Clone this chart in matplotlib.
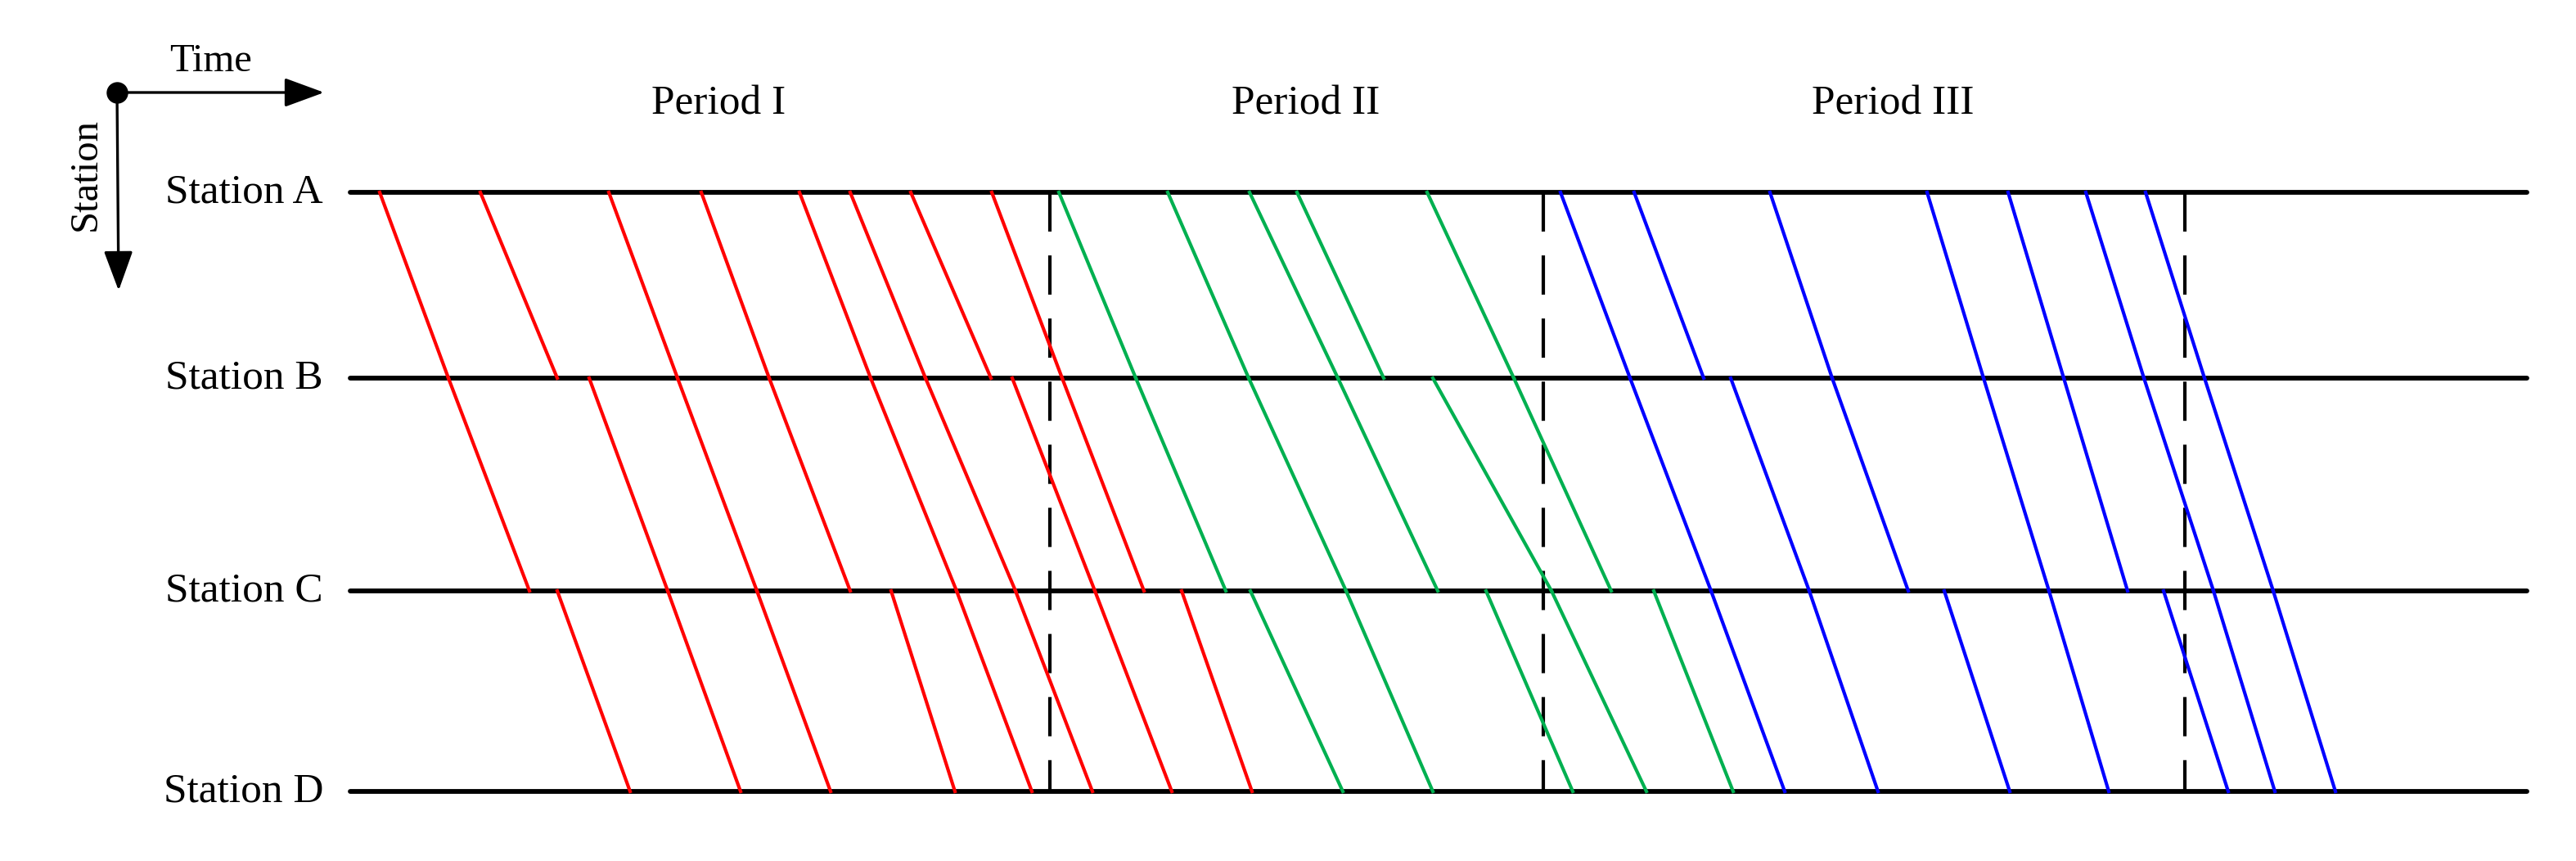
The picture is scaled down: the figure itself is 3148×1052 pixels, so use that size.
import matplotlib.pyplot as plt

plt.rcParams['font.family'] = ['Liberation Serif', 'DejaVu Serif']

# stations (distance from A, in drawing units)
stations = ['Station A', 'Station B', 'Station C', 'Station D']
station_pos = [0, 22.7, 48.7, 73.2]

# each train: A dep, B arr, B dep, C arr, C dep, D arr  (time units)
red_trains = [
    [46.4, 54.8, 54.8, 64.7, 68.1, 77.0],
    [58.7, 68.1, 72.0, 81.6, 81.6, 90.5],
    [74.4, 82.8, 82.8, 92.5, 92.5, 101.5],
    [85.7, 94.0, 94.0, 103.9, 108.9, 116.7],
    [97.7, 106.4, 106.4, 116.9, 116.9, 126.1],
    [103.9, 113.1, 113.1, 124.1, 124.1, 133.5],
    [111.3, 121.1, 123.7, 133.8, 133.8, 143.2],
    [121.2, 129.8, 129.8, 139.8, 144.4, 153.0],
]
green_trains = [
    [129.4, 138.8, 138.8, 149.8, 152.8, 164.1],
    [142.7, 152.6, 152.6, 164.5, 164.5, 175.1],
    [152.7, 163.5, 163.5, 175.7, 181.6, 192.2],
    [158.5, 169.1, 175.1, 189.6, 189.6, 201.2],
    [174.4, 185.0, 185.0, 196.9, 202.1, 211.8],
]
blue_trains = [
    [190.7, 199.2, 199.2, 209.1, 209.1, 218.1],
    [199.7, 208.2, 211.5, 221.1, 221.1, 229.5],
    [216.3, 223.9, 223.9, 233.2, 237.6, 245.6],
    [235.5, 242.4, 242.4, 250.4, 250.4, 257.7],
    [245.4, 252.2, 252.2, 260.0, 264.4, 272.3],
    [254.9, 262.0, 262.0, 270.5, 270.5, 278.0],
    [262.2, 269.4, 269.4, 277.8, 277.8, 285.4],
]

period_bounds = [128.3, 188.6, 267.0]
period_labels = ['Period I', 'Period II', 'Period III']
period_label_x = [87.8, 159.6, 231.3]
time_start, time_end = 42.8, 308.8

fig = plt.figure(figsize=(31.48, 10.52), dpi=100, facecolor='white')
ax = fig.add_axes([0, 0, 1, 1])
ax.set_xlim(0, 314.8)
ax.set_ylim(81.7, -23.5)
ax.axis('off')

# station lines
for name, y in zip(stations, station_pos):
    ax.plot([time_start, time_end], [y, y], color='black', lw=4.2,
            solid_capstyle='round', zorder=2)
    ax.text(39.5, y, name, ha='right', va='center', fontsize=37)

# period separators
for x in period_bounds:
    ax.plot([x, x], [station_pos[0], station_pos[-1]], color='black', lw=3.0,
            dashes=(11.5, 7), zorder=3)

for x, lab in zip(period_label_x, period_labels):
    ax.text(x, -10.8, lab, ha='center', va='center', fontsize=37)

# train paths
def draw_train(t, color):
    for i in range(3):
        dep = t[0] if i == 0 else t[2 * i]
        arr = t[2 * i + 1]
        ax.plot([dep, arr], [station_pos[i], station_pos[i + 1]],
                color=color, lw=3.0, zorder=4)

for t in red_trains:
    draw_train(t, '#FF0000')
for t in green_trains:
    draw_train(t, '#00B050')
for t in blue_trains:
    draw_train(t, '#0000FF')

# axis legend in the top-left corner
ox, oy = 14.3, -12.2
ax.annotate('', xy=(39.6, oy), xytext=(ox, oy),
            arrowprops=dict(arrowstyle='-|>,head_length=1.5,head_width=0.55',
                            color='black', lw=2.4, mutation_scale=20,
                            shrinkA=0, shrinkB=0))
ax.annotate('', xy=(ox + 0.2, 12.0), xytext=(ox, oy),
            arrowprops=dict(arrowstyle='-|>,head_length=1.5,head_width=0.55',
                            color='black', lw=2.4, mutation_scale=20,
                            shrinkA=0, shrinkB=0))
ax.plot([ox], [oy], 'o', color='black', markersize=18, zorder=5)
ax.text(25.7, -16.0, 'Time', ha='center', va='center', fontsize=35)
ax.text(10.5, -2.2, 'Station', ha='center', va='center', fontsize=35,
        rotation=90)

fig.savefig('out.png', dpi=100, facecolor='white')
